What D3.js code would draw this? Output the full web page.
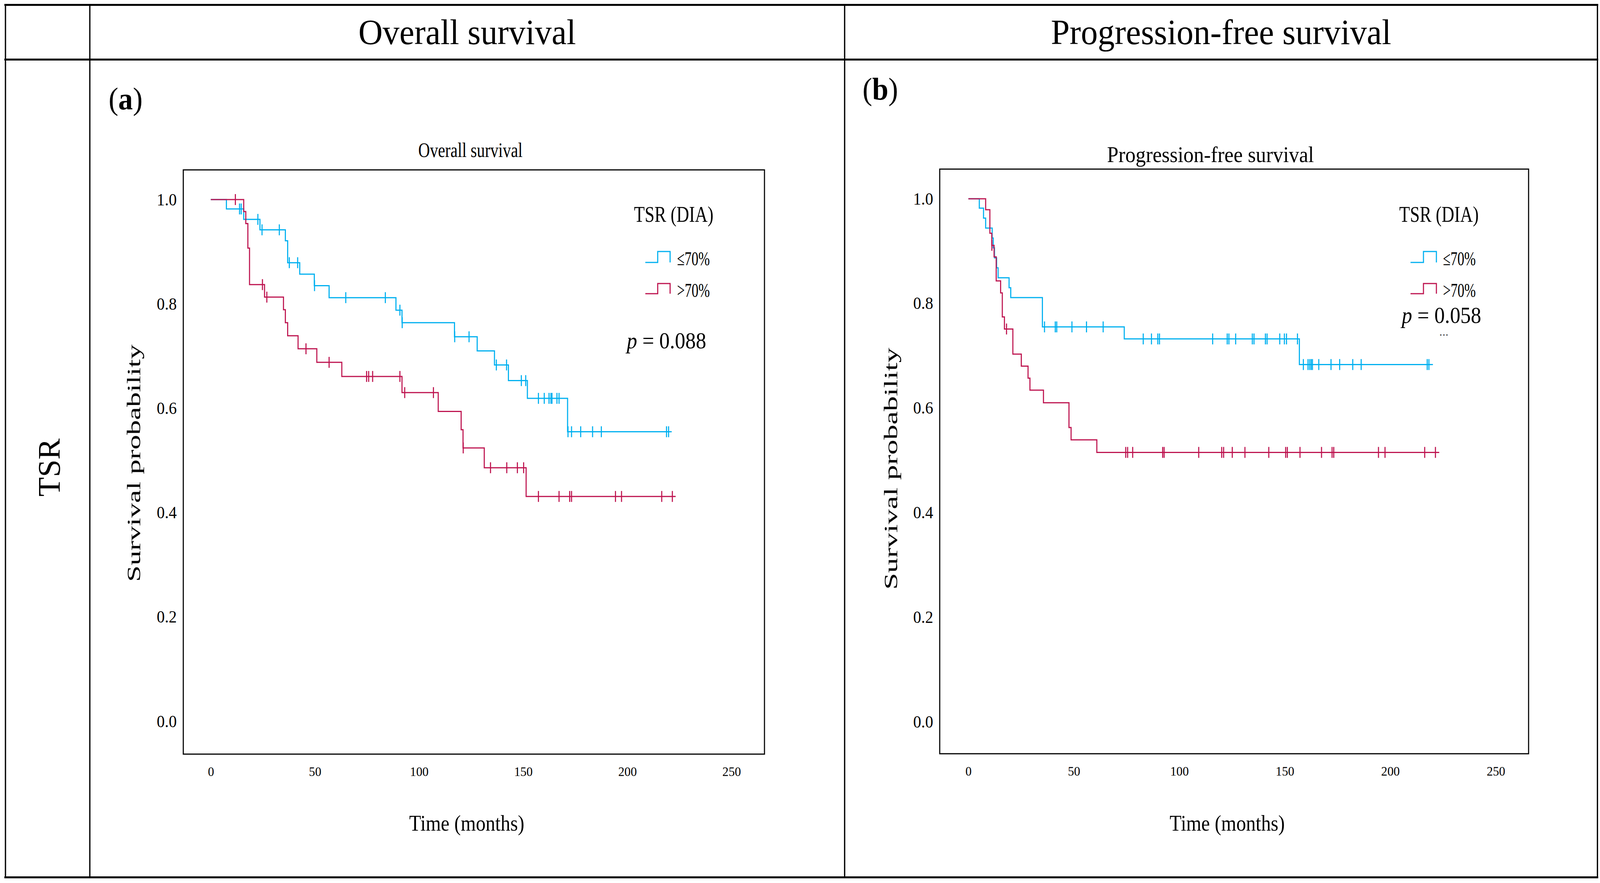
<!DOCTYPE html>
<html>
<head>
<meta charset="utf-8">
<script src="https://cdn.jsdelivr.net/npm/d3@7"></script>
<style>
  html, body { margin: 0; padding: 0; background: #fff; overflow: hidden; width: 100%; height: 100%; }
  #chart { width: 100vw; height: 100vh; }
</style>
</head>
<body>
<div id="chart"></div>
<script>
// ---- data ----
const tickMonths = [0, 50, 100, 150, 200, 250];
const tickProb = [0, 0.2, 0.4, 0.6, 0.8, 1.0];
const groupLabels = ['\u226470%', '>70%'];
const pValues = ['0.088', '0.058'];

// overall survival, TSR <= 70% : [month, survival after the step]
const osLowSteps = [[7.5, 0.982], [15.8, 0.962], [23.6, 0.942], [35.8, 0.921], [36.9, 0.879],
  [42.7, 0.857], [49.7, 0.835], [56.8, 0.812], [88.9, 0.788], [91.8, 0.764], [117.0, 0.737],
  [127.9, 0.710], [136.2, 0.683], [142.9, 0.653], [152.0, 0.619], [171.3, 0.555]];
const osLowEnd = 221.3;
const osLowCensor = [13.8, 14.6, 22.6, 24.6, 32.9, 37.7, 41.7, 49.8, 64.8, 83.8, 90.8, 91.9,
  117.1, 124.0, 137.1, 142.0, 149.1, 151.2, 157.3, 160.1, 162.4, 163.3, 163.8, 166.2, 167.2,
  171.5, 173.2, 177.6, 183.3, 187.5, 218.8, 219.8];

// overall survival, TSR > 70%
const osHighSteps = [[15.8, 0.977], [16.8, 0.954], [17.8, 0.907], [18.6, 0.837], [25.8, 0.813],
  [34.9, 0.789], [35.8, 0.764], [36.9, 0.739], [41.9, 0.714], [50.9, 0.688], [62.9, 0.661],
  [91.8, 0.630], [109.2, 0.594], [120.2, 0.559], [121.1, 0.524], [131.3, 0.486], [151.4, 0.431]];
const osHighEnd = 223.2;
const osHighCensor = [11.8, 24.8, 26.9, 45.7, 56.8, 74.8, 75.8, 77.7, 90.8, 93.1, 106.9, 121.2,
  134.3, 142.1, 147.2, 150.2, 157.3, 167.2, 172.3, 173.2, 194.3, 197.2, 216.5, 221.6];

// progression-free survival, TSR <= 70%
const pfsLowSteps = [[5.2, 0.982], [7.2, 0.963], [8.2, 0.944], [11.3, 0.925], [11.8, 0.906],
  [12.4, 0.887], [13.4, 0.868], [14.1, 0.849], [19.3, 0.830], [20.1, 0.811], [35.1, 0.755],
  [73.9, 0.732], [156.9, 0.683]];
const pfsLowEnd = 220.2;
const pfsLowCensor = [36.1, 41.2, 41.9, 49.1, 56.0, 63.9, 82.9, 86.8, 89.8, 90.6, 115.8, 122.7,
  123.5, 126.7, 134.6, 135.4, 140.8, 141.6, 147.6, 149.8, 150.8, 156.0, 158.8, 161.0, 161.8,
  162.5, 163.1, 166.1, 171.9, 176.0, 182.2, 186.2, 217.5, 218.3];

// progression-free survival, TSR > 70%
const pfsHighSteps = [[8.2, 0.979], [10.2, 0.934], [11.1, 0.911], [12.2, 0.889], [13.2, 0.843],
  [15.3, 0.820], [16.1, 0.774], [17.1, 0.751], [21.1, 0.703], [25.1, 0.680], [28.3, 0.657],
  [29.2, 0.634], [35.6, 0.610], [47.7, 0.5625], [48.7, 0.539], [60.9, 0.515]];
const pfsHighEnd = 223.2;
const pfsHighCensor = [11.15, 18.1, 74.6, 75.5, 77.9, 92.1, 92.8, 109.2, 120.1, 121.0, 125.1,
  131.1, 142.4, 150.4, 151.2, 157.2, 167.4, 172.4, 173.2, 194.4, 197.5, 216.3, 221.4];

// ---- layout ----
const W = 4391, H = 2261;
const serif = '"Liberation Serif", "DejaVu Serif", serif';
const blue = '#00B0F0';
const red = '#BE1550';

// viewBox keeps the drawing at reference size whatever the real viewport is
const svg = d3.select('#chart').append('svg')
  .attr('viewBox', `0 0 ${W} ${H}`)
  .attr('preserveAspectRatio', 'none')
  .attr('width', '100%')
  .attr('height', '100%')
  .style('display', 'block');

function label(g, txt, x, y, size, len, anchor) {
  const t = g.append('text')
    .attr('x', x)
    .attr('y', y)
    .attr('font-family', serif)
    .attr('font-size', size)
    .attr('fill', '#000')
    .attr('text-anchor', anchor || 'start')
    .text(txt);
  if (len) t.attr('textLength', len).attr('lengthAdjust', 'spacingAndGlyphs');
  return t;
}

// table frame
const frame = svg.append('g').attr('stroke', '#000');
[12.5, 152.5, 2246.5].forEach(yy => {
  frame.append('line').attr('x1', 12).attr('x2', 4386).attr('y1', yy).attr('y2', yy)
    .attr('stroke-width', 5);
});
[15, 246.5, 2318, 4384].forEach(xx => {
  frame.append('line').attr('x1', xx).attr('x2', xx).attr('y1', 10).attr('y2', 2249)
    .attr('stroke-width', 3.5);
});

label(svg, 'Overall survival', 1282, 113, 92, 597, 'middle');
label(svg, 'Progression-free survival', 3351, 113, 92, 934, 'middle');

label(svg, 'TSR', 0, 0, 86, 149, 'middle')
  .attr('transform', 'translate(164,1197) rotate(-90)');

function panelTag(txt, x, y) {
  const t = svg.append('text')
    .attr('x', x).attr('y', y)
    .attr('font-family', serif).attr('font-size', 80).attr('fill', '#000');
  t.append('tspan').text('(');
  t.append('tspan').attr('font-weight', 'bold').text(txt);
  t.append('tspan').text(')');
}
panelTag('a', 298, 280);
panelTag('b', 2367, 255);

function survAt(steps, t) {
  let s = 1;
  steps.forEach(d => { if (d[0] <= t) s = d[1]; });
  return s;
}

function drawPanel(p) {
  const x = d3.scaleLinear().domain([0, 250]).range(p.xRange);
  const y = d3.scaleLinear().domain([0, 1]).range(p.yRange);
  const [bx0, by0, bx1, by1] = p.box;
  const g = svg.append('g');

  label(g, p.title, p.titleX, p.titleY, p.titleSize, p.titleLen, 'middle');

  g.append('rect')
    .attr('x', bx0).attr('y', by0)
    .attr('width', bx1 - bx0).attr('height', by1 - by0)
    .attr('fill', 'none').attr('stroke', '#000').attr('stroke-width', 3);

  g.append('g')
    .attr('transform', `translate(0,${by1})`)
    .call(d3.axisBottom(x).tickValues(tickMonths).tickSize(0).tickPadding(32))
    .call(s => s.select('.domain').remove())
    .attr('font-family', serif)
    .attr('font-size', 34);

  g.append('g')
    .attr('transform', `translate(${bx0},0)`)
    .call(d3.axisLeft(y).tickValues(tickProb).tickFormat(d3.format('.1f'))
      .tickSize(0).tickPadding(18))
    .call(s => s.select('.domain').remove())
    .attr('font-family', serif)
    .attr('font-size', 44);

  label(g, 'Survival probability', 0, 0, 52, p.yLabelLen, 'middle')
    .attr('transform', `translate(${p.yLabelX},${p.yLabelY}) rotate(-90)`);
  label(g, 'Time (months)', p.xLabelX, 2127, 58, 316, 'middle');

  const line = d3.line()
    .x(d => x(d[0]))
    .y(d => y(d[1]))
    .curve(d3.curveStepAfter);

  p.series.forEach(s => {
    const pts = [[0, 1]].concat(s.steps, [[s.end, s.steps[s.steps.length - 1][1]]]);
    g.append('path')
      .attr('d', line(pts))
      .attr('fill', 'none')
      .attr('stroke', s.color)
      .attr('stroke-width', 3);
    g.selectAll(null)
      .data(s.censor)
      .join('line')
      .attr('x1', d => x(d)).attr('x2', d => x(d))
      .attr('y1', d => y(survAt(s.steps, d)) - 14)
      .attr('y2', d => y(survAt(s.steps, d)) + 14)
      .attr('stroke', s.color)
      .attr('stroke-width', 3);
  });

  // legend
  const L = p.legend;
  label(g, 'TSR (DIA)', L.titleX, 568, 58, 218);
  p.series.forEach((s, i) => {
    const lo = [672, 752][i], hi = [644, 726][i];
    g.append('path')
      .attr('d', d3.line()([[L.symX, lo], [L.symX + L.symW / 2, lo], [L.symX + L.symW / 2, hi],
        [L.symX + L.symW, hi], [L.symX + L.symW, lo]]))
      .attr('fill', 'none')
      .attr('stroke', s.color)
      .attr('stroke-width', 3);
    label(g, groupLabels[i], L.textX, [679, 760][i], 50, 90);
  });
  const pt = g.append('text')
    .attr('x', L.pX).attr('y', L.pY)
    .attr('font-family', serif).attr('font-size', 60).attr('fill', '#000')
    .attr('textLength', 218).attr('lengthAdjust', 'spacingAndGlyphs');
  pt.append('tspan').attr('font-style', 'italic').text('p');
  pt.append('tspan').text(' = ' + p.pValue);
  if (L.dots) label(g, '...', L.dots[0], L.dots[1], 22, 25);
}

drawPanel({
  title: 'Overall survival', titleX: 1291, titleY: 402, titleSize: 52, titleLen: 286,
  xRange: [578.5, 2007.5], yRange: [1847, 511], box: [503, 435, 2098, 1931],
  yLabelX: 385, yLabelY: 1186, yLabelLen: 608, xLabelX: 1281,
  pValue: pValues[0],
  legend: {titleX: 1740, symX: 1771, symW: 68, textX: 1858, pX: 1720, pY: 892},
  series: [
    {steps: osLowSteps, end: osLowEnd, censor: osLowCensor, color: blue},
    {steps: osHighSteps, end: osHighEnd, censor: osHighCensor, color: red},
  ],
});

drawPanel({
  title: 'Progression-free survival', titleX: 3322, titleY: 415, titleSize: 56, titleLen: 568,
  xRange: [2657.5, 4105], yRange: [1848, 509], box: [2579, 433, 4195, 1930],
  yLabelX: 2462, yLabelY: 1200, yLabelLen: 620, xLabelX: 3368,
  pValue: pValues[1],
  legend: {titleX: 3840, symX: 3871, symW: 71, textX: 3960, pX: 3847, pY: 827, dots: [3950, 859]},
  series: [
    {steps: pfsLowSteps, end: pfsLowEnd, censor: pfsLowCensor, color: blue},
    {steps: pfsHighSteps, end: pfsHighEnd, censor: pfsHighCensor, color: red},
  ],
});
</script>
</body>
</html>
